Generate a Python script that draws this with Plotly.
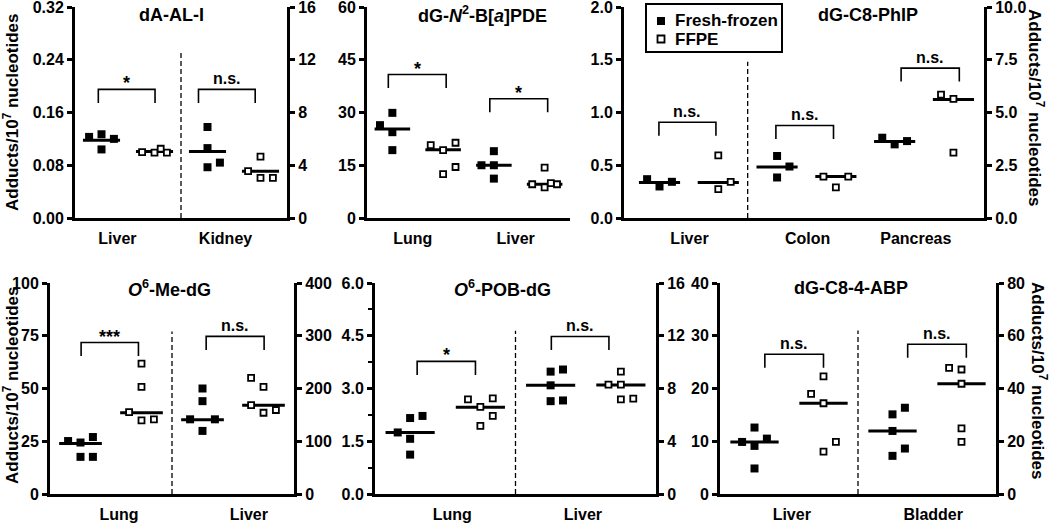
import plotly.graph_objects as go

W, H = 1050, 526

# ---------------- data ----------------
# Panel 1: dA-AL-I
p1_title = "dA-AL-I"
p1_tissues = ["Liver", "Kidney"]
p1_ff = [[0.123, 0.127, 0.104, 0.120], [0.138, 0.106, 0.077, 0.084]]
p1_ff_slot = [[-1, 0, 0, 1], [0, 0, 0, 1]]
p1_ffpe = [[0.100, 0.099, 0.105, 0.099], [0.071, 0.093, 0.061, 0.061]]
p1_ffpe_slot = [[-1, 0, 0.5, 1], [-1, 0, 0, 1]]
p1_ff_line = [0.118, 0.101]
p1_ffpe_line = [0.101, 0.071]
p1_sig = ["*", "n.s."]
p1_left_ticks = [0, 0.08, 0.16, 0.24, 0.32]
p1_left_labels = ["0.00", "0.08", "0.16", "0.24", "0.32"]
p1_right_ticks = [0, 4, 8, 12, 16]
p1_right_labels = ["0", "4", "8", "12", "16"]

# Panel 2: dG-N2-B[a]PDE
p2_title = "dG-<i>N</i><sup>2</sup>-B[<i>a</i>]PDE"
p2_tissues = ["Lung", "Liver"]
p2_ff = [[26.4, 29.9, 24.4, 19.3], [15.0, 19.0, 15.0, 11.2]]
p2_ff_slot = [[-1, 0, 0, 0], [-1, 0, 0, 0]]
p2_ffpe = [[20.7, 19.3, 21.4, 12.5, 14.5], [9.6, 14.3, 8.7, 9.9, 9.6]]
p2_ffpe_slot = [[-1, 0, 1, 0, 1], [-1, 0, 0, 0.5, 1]]
p2_ff_line = [25.3, 15.0]
p2_ffpe_line = [19.4, 9.6]
p2_sig = ["*", "*"]
p2_left_ticks = [0, 15, 30, 45, 60]
p2_left_labels = ["0", "15", "30", "45", "60"]

# Panel 3: dG-C8-PhIP
p3_title = "dG-C8-PhIP"
p3_tissues = ["Liver", "Colon", "Pancreas"]
p3_ff = [[0.368, 0.299, 0.343], [0.588, 0.384, 0.488], [0.761, 0.698, 0.729]]
p3_ff_slot = [[-1, 0, 1], [0, 0, 1], [-1, 0, 1]]
p3_ffpe = [[0.594, 0.274, 0.343], [0.393, 0.290, 0.393], [1.170, 1.129, 0.620]]
p3_ffpe_slot = [[0, 0, 1], [-1, 0, 1], [-1, 0, 0]]
p3_ff_line = [0.337, 0.484, 0.726]
p3_ffpe_line = [0.337, 0.393, 1.123]
p3_sig = ["n.s.", "n.s.", "n.s."]
p3_left_ticks = [0, 0.5, 1.0, 1.5, 2.0]
p3_left_labels = ["0.0", "0.5", "1.0", "1.5", "2.0"]
p3_right_ticks = [0, 2.5, 5.0, 7.5, 10.0]
p3_right_labels = ["0.0", "2.5", "5.0", "7.5", "10.0"]

# Panel 4: O6-Me-dG
p4_title = "<i>O</i><sup>6</sup>-Me-dG"
p4_tissues = ["Lung", "Liver"]
p4_ff = [[25.1, 24.4, 27.0, 17.6, 17.6], [35.4, 50.0, 44.0, 29.9, 35.4]]
p4_ff_slot = [[-1, 0, 1, 0, 1], [-1, 0, 0, 0, 1]]
p4_ffpe = [[38.8, 61.8, 50.8, 34.9, 35.4], [55.0, 50.8, 42.1, 38.5, 39.8]]
p4_ffpe_slot = [[-1, 0, 0, 0, 1], [-1, 0, -1, 0, 1]]
p4_ff_line = [23.9, 35.2]
p4_ffpe_line = [38.5, 42.1]
p4_sig = ["***", "n.s."]
p4_left_ticks = [0, 25, 50, 75, 100]
p4_left_labels = ["0", "25", "50", "75", "100"]
p4_right_ticks = [0, 100, 200, 300, 400]
p4_right_labels = ["0", "100", "200", "300", "400"]

# Panel 5: O6-POB-dG
p5_title = "<i>O</i><sup>6</sup>-POB-dG"
p5_tissues = ["Lung", "Liver"]
p5_ff = [[1.75, 2.16, 2.22, 1.57, 1.12], [3.48, 3.54, 3.09, 2.64, 2.66]]
p5_ff_slot = [[-1, 0, 1, 0, 0], [0, 1, 0, 0, 1]]
p5_ffpe = [[2.69, 2.48, 2.72, 2.22, 1.94], [3.48, 3.11, 3.11, 2.69, 2.71]]
p5_ffpe_slot = [[-1, 0, 1, 1, 0], [0, -1, 0, 0, 1]]
p5_ff_line = [1.75, 3.09]
p5_ffpe_line = [2.47, 3.10]
p5_sig = ["*", "n.s."]
p5_left_ticks = [0, 1.5, 3.0, 4.5, 6.0]
p5_left_labels = ["0.0", "1.5", "3.0", "4.5", "6.0"]
p5_right_ticks = [0, 4, 8, 12, 16]
p5_right_labels = ["0", "4", "8", "12", "16"]

# Panel 6: dG-C8-4-ABP
p6_title = "dG-C8-4-ABP"
p6_tissues = ["Liver", "Bladder"]
p6_ff = [[9.87, 12.6, 9.12, 10.5, 4.84], [16.35, 15.1, 11.95, 8.62, 7.23]]
p6_ff_slot = [[-1, 0, 0, 1, 0], [1, 0, 0, 1, 0]]
p6_ffpe = [[22.3, 19.0, 17.2, 8.05, 9.87], [23.9, 23.6, 20.9, 12.45, 9.87]]
p6_ffpe_slot = [[0, -1, 0, 0, 1], [-1, 0, 0, 0, 0]]
p6_ff_line = [9.87, 11.95]
p6_ffpe_line = [17.2, 20.9]
p6_sig = ["n.s.", "n.s."]
p6_left_ticks = [0, 10, 20, 30, 40]
p6_left_labels = ["0", "10", "20", "30", "40"]
p6_right_ticks = [0, 20, 40, 60, 80]
p6_right_labels = ["0", "20", "40", "60", "80"]

y_title = "Adducts/10<sup>7</sup> nucleotides"
legend_names = ["Fresh-frozen", "FFPE"]

# ---------------- layout geometry (pixels) ----------------
FONT = "Liberation Sans, Arial, sans-serif"
panels = [
    dict(title=p1_title, tissues=p1_tissues, ff=p1_ff, ffs=p1_ff_slot, ffpe=p1_ffpe, ffpes=p1_ffpe_slot,
         ffl=p1_ff_line, ffpel=p1_ffpe_line, sig=p1_sig, lt=p1_left_ticks, ll=p1_left_labels,
         rt=p1_right_ticks, rl=p1_right_labels,
         px=(75, 287), py=(7, 218), xr=(-0.5, 3.5), title_xy=(171, 15),
         label_x=[0.30, 2.34], brackets=[(-0.06, 1.01, 0.195), (1.83, 2.90, 0.195)],
         dash_top=0.252, minor=None),
    dict(title=p2_title, tissues=p2_tissues, ff=p2_ff, ffs=p2_ff_slot, ffpe=p2_ffpe, ffpes=p2_ffpe_slot,
         ffl=p2_ff_line, ffpel=p2_ffpe_line, sig=p2_sig, lt=p2_left_ticks, ll=p2_left_labels,
         rt=None, rl=None,
         px=(367, 570), py=(7, 218), xr=(-0.5, 3.5), title_xy=(482, 15),
         label_x=[0.40, 2.43], brackets=[(-0.08, 1.06, 40.8), (1.92, 3.06, 33.9)],
         dash_top=None, minor=None),
    dict(title=p3_title, tissues=p3_tissues, ff=p3_ff, ffs=p3_ff_slot, ffpe=p3_ffpe, ffpes=p3_ffpe_slot,
         ffl=p3_ff_line, ffpel=p3_ffpe_line, sig=p3_sig, lt=p3_left_ticks, ll=p3_left_labels,
         rt=p3_right_ticks, rl=p3_right_labels,
         px=(624, 984), py=(7, 218), xr=(-0.604, 5.52), title_xy=(868, 15),
         label_x=[0.51, 2.52, 4.36], brackets=[(-0.01, 0.96, 0.908), (1.98, 2.96, 0.877), (4.11, 5.10, 1.421)],
         dash_top=1.48, minor=None),
    dict(title=p4_title, tissues=p4_tissues, ff=p4_ff, ffs=p4_ff_slot, ffpe=p4_ffpe, ffpes=p4_ffpe_slot,
         ffl=p4_ff_line, ffpel=p4_ffpe_line, sig=p4_sig, lt=p4_left_ticks, ll=p4_left_labels,
         rt=p4_right_ticks, rl=p4_right_labels,
         px=(50, 294), py=(283, 494), xr=(-0.5, 3.5), title_xy=(169, 288),
         label_x=[0.63, 2.76], brackets=[(0.01, 0.95, 71.8), (2.06, 3.01, 74.7)],
         dash_top=77, minor=None),
    dict(title=p5_title, tissues=p5_tissues, ff=p5_ff, ffs=p5_ff_slot, ffpe=p5_ffpe, ffpes=p5_ffpe_slot,
         ffl=p5_ff_line, ffpel=p5_ffpe_line, sig=p5_sig, lt=p5_left_ticks, ll=p5_left_labels,
         rt=p5_right_ticks, rl=p5_right_labels,
         px=(375, 656), py=(283, 494), xr=(-0.5, 3.5), title_xy=(502, 288),
         label_x=[0.60, 2.46], brackets=[(0.10, 0.93, 3.77), (2.01, 2.83, 4.48)],
         dash_top=4.64, minor=0.75),
    dict(title=p6_title, tissues=p6_tissues, ff=p6_ff, ffs=p6_ff_slot, ffpe=p6_ffpe, ffpes=p6_ffpe_slot,
         ffl=p6_ff_line, ffpel=p6_ffpe_line, sig=p6_sig, lt=p6_left_ticks, ll=p6_left_labels,
         rt=p6_right_ticks, rl=p6_right_labels,
         px=(720, 996), py=(283, 494), xr=(-0.5, 3.5), title_xy=(851, 288),
         label_x=[0.54, 2.59], brackets=[(0.15, 1.00, 26.5), (2.22, 3.07, 28.4)],
         dash_top=31, minor=None),
]

SLOT_PX = 12.4     # horizontal spacing between side-by-side points
HALF_LINE = 0.35   # half-width of the central line (in group units)
LEG_PX = 13.5      # bracket leg length

fig = go.Figure()
tick_font = dict(family=FONT, size=16, color="black", weight="bold")
annotations = []
shapes = []
right_id = 7

for i, p in enumerate(panels):
    n = i + 1
    xs = "x" if n == 1 else f"x{n}"
    ys = "y" if n == 1 else f"y{n}"
    xkey = "xaxis" if n == 1 else f"xaxis{n}"
    ykey = "yaxis" if n == 1 else f"yaxis{n}"
    x0px, x1px = p["px"]
    y0px, y1px = p["py"]
    xr = p["xr"]
    yr = (p["lt"][0], p["lt"][-1])
    ppu_x = (x1px - x0px) / (xr[1] - xr[0])
    ppu_y = (y1px - y0px) / (yr[1] - yr[0])
    slot = SLOT_PX / ppu_x

    # central lines (below markers)
    for g in range(len(p["tissues"])):
        for k, lines in enumerate([p["ffl"], p["ffpel"]]):
            c = 2 * g + k
            fig.add_trace(go.Scatter(
                x=[c - HALF_LINE, c + HALF_LINE], y=[lines[g], lines[g]], mode="lines",
                line=dict(color="black", width=3), xaxis=xs, yaxis=ys,
                showlegend=False, hoverinfo="skip"))

    # brackets
    for (bx0, bx1, by), s in zip(p["brackets"], p["sig"]):
        leg = LEG_PX / ppu_y
        fig.add_trace(go.Scatter(
            x=[bx0, bx0, bx1, bx1], y=[by - leg, by, by, by - leg], mode="lines",
            line=dict(color="black", width=1.6), xaxis=xs, yaxis=ys,
            showlegend=False, hoverinfo="skip"))
        star = s.startswith("*")
        annotations.append(dict(
            x=(bx0 + bx1) / 2, y=by, xref=xs, yref=ys, text=s, showarrow=False,
            yanchor="bottom", yshift=(-6 if star else 0),
            font=dict(family=FONT, size=(18 if star else 16), color="black", weight="bold")))

    # points
    ffx, ffy, fpx, fpy = [], [], [], []
    for g in range(len(p["tissues"])):
        for v, sl in zip(p["ff"][g], p["ffs"][g]):
            ffx.append(2 * g + sl * slot)
            ffy.append(v)
        for v, sl in zip(p["ffpe"][g], p["ffpes"][g]):
            fpx.append(2 * g + 1 + sl * slot)
            fpy.append(v)
    fig.add_trace(go.Scatter(
        x=ffx, y=ffy, mode="markers", name=legend_names[0], showlegend=False, xaxis=xs, yaxis=ys,
        marker=dict(symbol="square", size=8, color="black", line=dict(width=0))))
    fig.add_trace(go.Scatter(
        x=fpx, y=fpy, mode="markers", name=legend_names[1], showlegend=False, xaxis=xs, yaxis=ys,
        marker=dict(symbol="square", size=6, color="white", line=dict(width=1.8, color="black"))))

    # dashed separator
    if p["dash_top"] is not None:
        shapes.append(dict(type="line", xref=xs, yref=ys, x0=1.5, x1=1.5, y0=yr[0], y1=p["dash_top"],
                           line=dict(color="black", width=1.3, dash="5px,3px")))

    dom_x = [x0px / W, x1px / W]
    dom_y = [1 - y1px / H, 1 - y0px / H]
    fig.layout[xkey] = dict(
        domain=dom_x, range=list(xr), anchor=ys, showline=True, linewidth=3, linecolor="black",
        tickmode="array", tickvals=p["label_x"], ticktext=p["tissues"], ticks="outside",
        ticklen=4, tickcolor="rgba(0,0,0,0)", tickfont=tick_font, showgrid=False,
        zeroline=False, fixedrange=True, automargin=False, ticklabeloverflow="allow")
    yax = dict(
        domain=dom_y, range=list(yr), anchor=xs, showline=True, linewidth=3, linecolor="black",
        tickmode="array", tickvals=p["lt"], ticktext=p["ll"], ticks="outside", ticklen=5,
        tickwidth=3, tickcolor="black", tickfont=tick_font, showgrid=False, zeroline=False,
        fixedrange=True, automargin=False, ticklabeloverflow="allow")
    if p["minor"]:
        yax["minor"] = dict(ticks="outside", ticklen=4, tickwidth=2, tickcolor="black",
                            dtick=p["minor"], showgrid=False)
    fig.layout[ykey] = yax

    if p["rt"] is not None:
        rid = f"y{right_id}"
        fig.layout[f"yaxis{right_id}"] = dict(
            overlaying=ys, side="right", anchor=xs, range=[p["rt"][0], p["rt"][-1]],
            showline=True, linewidth=3, linecolor="black", tickmode="array",
            tickvals=p["rt"], ticktext=p["rl"], ticks="outside", ticklen=5, tickwidth=3,
            tickcolor="black", tickfont=tick_font, showgrid=False, zeroline=False,
            fixedrange=True, automargin=False, ticklabeloverflow="allow")
        fig.add_trace(go.Scatter(x=[None], y=[None], xaxis=xs, yaxis=rid, showlegend=False,
                                 hoverinfo="skip", mode="markers"))
        right_id += 1

    # panel title
    tx, ty = p["title_xy"]
    annotations.append(dict(x=tx / W, y=1 - ty / H, xref="paper", yref="paper", text=p["title"],
                            showarrow=False, xanchor="center", yanchor="middle",
                            font=dict(family=FONT, size=18, color="black", weight="bold")))

# axis titles
title_font = dict(family=FONT, size=17, color="black", weight="bold")
for (px_, py_, ang) in [(11, 113, -90), (11, 386, -90), (1036, 107, 90), (1039, 380, 90)]:
    annotations.append(dict(x=px_ / W, y=1 - py_ / H, xref="paper", yref="paper", text=y_title,
                            showarrow=False, textangle=ang, xanchor="center", yanchor="middle",
                            font=title_font))

# manual legend (box + two symbols + labels)
LEG_BOX = (646, 4, 782, 52)
shapes.append(dict(type="rect", xref="paper", yref="paper",
                   x0=LEG_BOX[0] / W, x1=LEG_BOX[2] / W, y0=1 - LEG_BOX[3] / H, y1=1 - LEG_BOX[1] / H,
                   line=dict(color="black", width=2), fillcolor="white", layer="above"))
for k, (cy, name) in enumerate([(21, legend_names[0]), (39, legend_names[1])]):
    cx = 661
    hs = 4 if k == 0 else 3.5
    shapes.append(dict(type="rect", xref="paper", yref="paper",
                       x0=(cx - hs) / W, x1=(cx + hs) / W, y0=1 - (cy + hs) / H, y1=1 - (cy - hs) / H,
                       line=dict(color="black", width=(0 if k == 0 else 1.8)),
                       fillcolor=("black" if k == 0 else "white"), layer="above"))
    annotations.append(dict(x=673 / W, y=1 - cy / H, xref="paper", yref="paper", text=name,
                            showarrow=False, xanchor="left", yanchor="middle",
                            font=dict(family=FONT, size=17, color="black", weight="bold")))

fig.update_layout(
    width=W, height=H, margin=dict(l=0, r=0, t=0, b=0, pad=0, autoexpand=False),
    paper_bgcolor="white", plot_bgcolor="white",
    annotations=annotations, shapes=shapes,
    showlegend=False,
)

pin_js = (
    "var d=document.getElementById('{plot_id}');"
    "d.style.position='fixed';d.style.top='0px';d.style.left='0px';"
    "document.body.style.margin='0';document.body.style.padding='0';"
    "document.documentElement.style.overflow='hidden';document.body.style.overflow='hidden';"
)
fig.write_html("out.html", config={"displayModeBar": False}, post_script=pin_js)
